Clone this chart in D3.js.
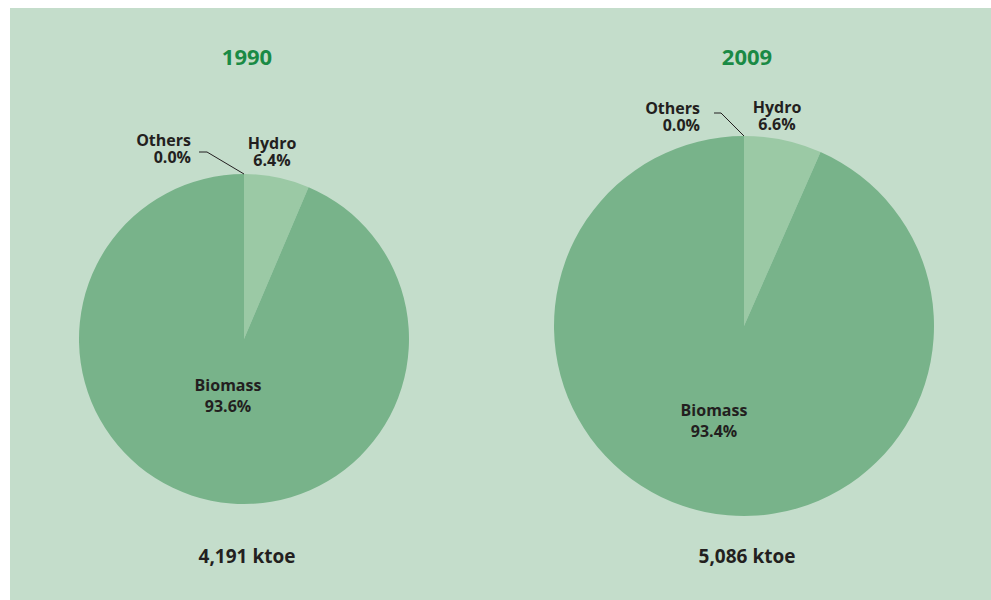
<!DOCTYPE html>
<meta charset="utf-8">
<head>
<style>
    body { margin: 0; background: #ffffff; font-family: "Open Sans", "Noto Sans", Arial, sans-serif; }
    svg { display: block; }
</style>
<script src="https://cdn.jsdelivr.net/npm/d3@7/dist/d3.min.js"></script>
</head>
<body>
<svg id="vis"></svg>
<script>
// data
let years = ["1990", "2009"]
let totals = ["4,191 ktoe", "5,086 ktoe"]
let categories = ["Hydro", "Others", "Biomass"]
let shares1990 = [6.4, 0.0, 93.6]
let shares2009 = [6.6, 0.0, 93.4]

let colors = { Hydro: "#9bc9a5", Others: "#78b38a", Biomass: "#78b38a" }

function getConfig() {
    let width = 991, height = 600
    let container = d3.select("#vis").attr("width", width).attr("height", height)
    // one entry per pie: centre, radius and label offsets (relative to centre)
    let panels = [
        { cx: 244, cy: 339, r: 165, values: shares1990,
          hydro: [28, -190], others: [-53, -193], lead: [-45, -187, -37, -187], bio: [-16, 52] },
        { cx: 744, cy: 326, r: 190, values: shares2009,
          hydro: [33, -213], others: [-44, -212], lead: [-30, -213, -23, -213], bio: [-30, 90] }
    ]
    return { width, height, container, panels }
}

function drawPanel(container, p, i) {
    let g = container.append("g").attr("transform", `translate(${p.cx},${p.cy})`)
    let data = categories.map((c, k) => ({ name: c, value: p.values[k] }))
    let pie = d3.pie().sort(null).value(d => d.value)
    let arc = d3.arc().innerRadius(0).outerRadius(p.r)
    let arcs = pie(data)

    g.selectAll("path")
        .data(arcs)
        .enter()
        .append("path")
        .attr("d", arc)
        .attr("fill", d => colors[d.data.name])

    // title
    container.append("text")
        .attr("x", p.cx + 3).attr("y", 65)
        .attr("text-anchor", "middle")
        .attr("font-size", "22px").attr("font-weight", "bold")
        .attr("fill", "#1a8a45")
        .text(years[i])

    // total
    container.append("text")
        .attr("x", p.cx + 3).attr("y", 563)
        .attr("text-anchor", "middle")
        .attr("font-size", "19px").attr("font-weight", "bold")
        .attr("fill", "#231f20")
        .text(totals[i])

    // two-line label, one text per line
    let lab = (x, y, anchor, lines, gap) => {
        lines.forEach((s, k) => g.append("text")
            .attr("x", x).attr("y", y + k * gap)
            .attr("text-anchor", anchor)
            .attr("font-size", "16px").attr("font-weight", "bold")
            .attr("fill", "#231f20")
            .text(s))
    }

    let fmt = v => v.toFixed(1) + "%"
    lab(p.hydro[0], p.hydro[1], "middle", ["Hydro", fmt(p.values[0])], 17)
    lab(p.others[0], p.others[1], "end", ["Others", fmt(p.values[1])], 17)
    g.append("polyline")
        .attr("points", `${p.lead[0]},${p.lead[1]} ${p.lead[2]},${p.lead[3]} 0,${-p.r}`)
        .attr("fill", "none").attr("stroke", "#231f20").attr("stroke-width", 1)
    lab(p.bio[0], p.bio[1], "middle", ["Biomass", fmt(p.values[2])], 21)
}

function draw() {
    let config = getConfig()
    let { container, panels, width, height } = config
    container.append("rect")
        .attr("x", 10).attr("y", 8)
        .attr("width", width - 10).attr("height", height - 8)
        .attr("fill", "#c4ddcb")
    panels.forEach((p, i) => drawPanel(container, p, i))
}

draw()
</script>
</body>
